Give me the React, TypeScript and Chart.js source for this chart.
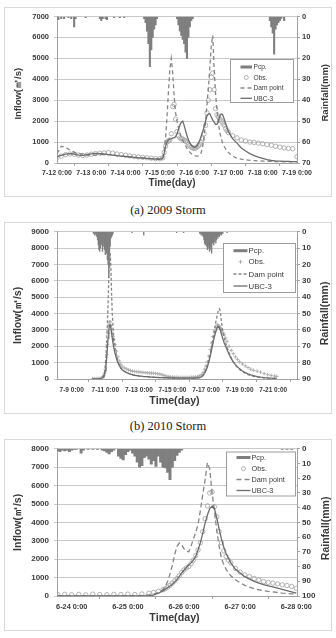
import { useEffect, useRef } from 'react';
import { Chart, registerables } from 'chart.js';

Chart.register(...registerables);

const SANS = '"Liberation Sans", Arial, sans-serif';
const SERIF = '"Liberation Serif", "Times New Roman", serif';
const TEXT = '#3a3a3a';
const GRID = '#c9c9c9';
const AXIS = '#a2a2a2';
const RAIN_COLOR = '#7f7f7f';
const OBS_COLOR = '#a8a8a8';
const DAM_COLOR = '#868686';
const UBC_COLOR = '#6c6c6c';

const FLOW_TITLE = 'Inflow(㎥/s)';
const RAIN_TITLE = 'Rainfall(mm)';
const TIME_TITLE = 'Time(day)';

// ---------- 2009 storm: hours after 7-12 0:00 ----------
const hours2009 = [
  0, 3, 6, 9, 12, 15, 18, 21, 24, 27, 30, 33, 36, 39, 42, 45, 48, 51, 54, 57, 60, 63, 66, 69, 72,
  74, 75, 76, 77, 78, 79, 80, 81, 82, 83, 84, 85, 86, 87, 88, 89, 90, 91, 92, 93, 94, 95, 96, 97,
  98, 99, 100, 101, 102, 103, 104, 105, 106, 107, 108, 109, 110, 111, 112, 113, 114, 115, 116, 117,
  118, 119, 120,
  123, 126, 129, 132, 135, 138, 141, 144, 147, 150, 153, 156, 159, 162, 165, 168,
];
const obs2009 = [
  250, 330, 400, 430, 420, 380, 360, 380, 420, 450, 470, 480, 500, 470, 430, 400, 370, 340, 310, 290, 270, 250, 230, 210, 200,
  250, 500, 800, 1000, 1050, 1100, 1400, 2700, 2800, 2100, 1500, 1300, 1200, 1150, 1150, 1100, 1050, 1000, 900, 820,
  760, 720, 700, 720, 760, 820, 900, 1000, 1150, 1400, 1800, 2400, 3000, 3500, 4100, 4300, 3500, 2600, 2300, 2200,
  2100, 2000, 1900, 1800, 1650, 1550, 1450,
  1300, 1200, 1100, 1050, 1000, 980, 950, 920, 880, 850, 800, 760, 720, 700, 680, 300,
];
const dam2009 = [
  450, 800, 750, 620, 520, 460, 420, 380, 360, 380, 400, 410, 400, 380, 350, 330, 310, 290, 270, 260, 240, 230, 210, 200, 190,
  250, 600, 1200, 2200, 3400, 4500, 5000, 4300, 3200, 2400, 2000, 1700, 1450, 1250, 1100, 950, 820, 700, 600, 520,
  450, 400, 360, 340, 330, 340, 380, 500, 800, 1300, 2000, 2800, 3600, 4600, 5600, 6100, 4500, 3300, 2500, 1900,
  1450, 1150, 950, 800, 680, 580, 500,
  320, 230, 180, 150, 130, 115, 100, 90, 80, 75, 70, 65, 60, 55, 50, 50,
];
const ubc2009 = [
  300, 360, 420, 450, 430, 380, 360, 400, 440, 460, 450, 430, 400, 380, 350, 330, 310, 290, 270, 250, 240, 220, 200, 190, 180,
  220, 450, 800, 1000, 1100, 1150, 1150, 1200, 1200, 1250, 1400, 1600, 1800, 1950, 2000, 1800, 1550, 1300, 1100, 950,
  850, 780, 750, 760, 820, 950, 1100, 1300, 1500, 1750, 2000, 2250, 2350, 2350, 2200, 2050, 1950, 1850, 1850, 2000,
  2250, 2350, 2300, 2100, 1900, 1700, 1500,
  1150, 950, 720, 570, 450, 350, 280, 220, 160, 120, 100, 90, 80, 75, 70, 65,
];
const rainHours2009 = [
  0, 1, 3, 5, 8, 10, 12, 13, 20, 30, 31, 32, 34, 35, 40, 44, 47,
  61, 62, 63, 64, 65, 66, 67, 68, 69, 70,
  84, 85, 86, 87, 88, 89, 90, 91, 92, 93, 94, 95,
  149, 150, 151, 152, 153, 154, 155, 156, 157, 159,
];
const rainMm2009 = [
  1, 1.5, 1, 1, 0.5, 1, 5, 1, 0.5, 1, 2, 1, 1, 1.5, 0.5, 0.5, 0.5,
  1, 3, 7, 13, 24, 16, 10, 6, 4, 1,
  1, 4, 7, 9, 11, 13, 17, 20, 10, 5, 2, 1,
  2, 5, 8, 18, 6, 4, 3, 2, 1, 2,
];
const tickHours2009 = [0, 24, 48, 72, 96, 120, 144, 168];
const tickLabels2009 = ['7-12 0:00', '7-13 0:00', '7-14 0:00', '7-15 0:00', '7-16 0:00', '7-17 0:00', '7-18 0:00', '7-19 0:00'];

// ---------- 2010 storm: hours after 7-9 0:00 ----------
const hours2010 = [
  30, 33, 36, 39, 42, 45,
  46, 47, 48, 49, 50, 51, 52, 53, 54, 55, 56, 57, 58, 59, 60, 62, 64, 66, 68, 70, 72,
  75, 78, 81, 84, 87, 90, 93, 96, 99, 102, 105, 108, 111, 114, 117, 120, 123, 126, 129, 132, 135, 138,
  141, 144, 147, 150, 153, 156, 159, 162, 165, 168, 171, 174, 177, 180, 183, 186,
  188, 190, 192, 194, 196, 198, 200, 202, 204, 206, 208, 209, 210, 211, 212, 213, 214, 216, 218, 220, 222,
  225, 228, 231, 234, 237, 240, 244, 248, 252, 256, 260, 265, 270, 275, 280, 285, 290, 293,
];
const obs2010 = [
  20, 20, 30, 40, 60, 150,
  220, 350, 600, 1000, 1500, 2100, 2800, 3300, 3500, 3500, 3300, 3000, 2800, 2600, 2400, 2100, 1700, 1350, 1100, 900, 780,
  680, 620, 560, 520, 480, 460, 440, 430, 420, 400, 390, 380, 370, 360, 350, 340, 320, 300, 260, 220, 180, 150,
  130, 120, 110, 110, 100, 100, 100, 100, 100, 100, 110, 120, 130, 150, 200, 280,
  400, 600, 800, 1050, 1400, 1800, 2200, 2600, 2900, 3150, 3300, 3300, 3250, 3200, 3150, 3050, 3000, 2850, 2700, 2500, 2300,
  2000, 1750, 1550, 1350, 1200, 1050, 920, 800, 700, 600, 530, 480, 420, 330, 260, 220, 180, 160,
];
const dam2010 = [
  0, 0, 0, 10, 30, 150,
  250, 450, 800, 1400, 2300, 3400, 4700, 6200, 7400, 7700, 6800, 5200, 4000, 3200, 2600, 1900, 1450, 1100, 850, 700, 580,
  480, 400, 340, 290, 250, 220, 200, 180, 165, 150, 140, 130, 120, 110, 100, 95, 90, 85, 80, 75, 70, 65,
  60, 60, 55, 55, 50, 50, 50, 50, 50, 50, 50, 55, 60, 70, 90, 150,
  250, 400, 600, 850, 1150, 1550, 2000, 2500, 3000, 3500, 3900, 4100, 4250, 4300, 4200, 3900, 3500, 2900, 2500, 2200, 1950,
  1600, 1300, 1050, 850, 700, 580, 450, 350, 270, 210, 160, 120, 90, 70, 50, 40, 30, 30,
];
const ubc2010 = [
  0, 0, 0, 10, 30, 100,
  180, 300, 500, 850, 1300, 1900, 2500, 3000, 3300, 3300, 3100, 2800, 2500, 2200, 1950, 1550, 1250, 1000, 820, 680, 570,
  470, 400, 340, 300, 260, 230, 210, 190, 175, 160, 150, 140, 130, 120, 110, 100, 95, 90, 85, 80, 75, 70,
  65, 60, 60, 55, 55, 50, 50, 50, 50, 50, 50, 55, 60, 70, 90, 140,
  220, 350, 520, 750, 1050, 1400, 1800, 2200, 2600, 2900, 3150, 3200, 3200, 3150, 3050, 2900, 2750, 2450, 2200, 2000, 1800,
  1500, 1250, 1050, 880, 740, 620, 490, 390, 310, 250, 200, 150, 110, 85, 65, 50, 40, 35,
];
const rainHours2010 = [
  31, 32, 33, 34, 35, 36, 37, 38, 39, 40, 41, 42, 43, 44, 45, 46, 47, 48, 49, 50,
  51, 52, 53, 54, 55, 56, 57, 58, 59,
  86, 103, 150, 160,
  183, 184, 185, 186, 187, 188, 189, 190, 191, 192, 193, 194, 195, 196, 197, 198, 199, 200, 201, 202,
  203, 204, 205, 206, 207, 208, 209, 210, 211, 212, 213, 214, 215, 216,
  222,
];
const rainMm2010 = [
  1, 1, 2, 1, 2, 3, 5, 8, 11, 12, 10, 6, 8, 12, 9, 7, 11, 14, 10, 13,
  17, 20, 28, 22, 9, 4, 3, 2, 1,
  0.5, 2, 0.5, 0.5,
  1, 1, 2, 1, 2, 3, 5, 7, 8, 6, 9, 11, 8, 10, 12, 9, 11, 13, 7, 5,
  8, 6, 4, 7, 5, 3, 4, 2, 3, 2, 1, 2, 1, 1,
  0.5,
];
const tickHours2010 = [0, 48, 96, 144, 192, 240, 288];
const tickLabels2010 = ['7-9 0:00', '7-11 0:00', '7-13 0:00', '7-15 0:00', '7-17 0:00', '7-19 0:00', '7-21 0:00'];

// ---------- June storm: hours after 6-24 0:00 ----------
const hoursJun = [
  -6, -3, 0, 3, 6, 9, 12, 15, 18, 21, 24, 27, 30, 33, 35, 37, 39,
  40, 41, 42, 43, 44, 45, 46, 47, 48, 49, 50, 51, 52, 53, 54, 55, 56, 57, 58, 59, 60, 61, 62, 63, 64,
  65, 66, 67, 68, 70, 72, 74, 76, 78, 80, 82, 84, 86, 88, 90, 92, 94, 96,
];
const obsJun = [
  80, 90, 70, 90, 60, 100, 80, 70, 90, 80, 100, 80, 110, 150, 200, 250, 340,
  400, 480, 580, 700, 820, 950, 1100, 1280, 1420, 1520, 1600, 1750, 1950, 2200, 2500, 2900, 3500, 4200, 4900, 5600, 5650, 4850, 4300, 3500, 2900,
  2450, 2150, 1950, 1800, 1500, 1300, 1150, 1050, 950, 870, 780, 740, 700, 660, 610, 570, 520, 420,
];
const damJun = [
  10, 10, 10, 10, 10, 10, 10, 10, 10, 10, 20, 20, 30, 60, 100, 180, 350,
  500, 800, 1200, 1650, 2250, 2700, 2880, 2780, 2560, 2430, 2400, 2700, 3100, 3450, 3900, 4650, 5500, 6300, 7250, 6900, 5600, 4650, 3550, 2700, 2050,
  1700, 1450, 1250, 1100, 880, 720, 580, 480, 400, 340, 290, 250, 220, 190, 160, 140, 120, 110,
];
const ubcJun = [
  5, 5, 5, 5, 5, 5, 5, 5, 5, 5, 5, 5, 10, 20, 50, 150, 280,
  380, 450, 540, 640, 760, 900, 1070, 1250, 1400, 1550, 1680, 1800, 1950, 2150, 2500, 2900, 3400, 3950, 4400, 4750, 4880, 4750, 4250, 3650, 3100,
  2650, 2300, 2050, 1800, 1450, 1250, 1050, 920, 800, 700, 620, 550, 490, 430, 360, 290, 220, 150,
];
const rainHoursJun = [
  -6, -5, -4, -3, -2, -1, 0, 1, 2, 4, 5, 7, 9, 11, 13, 14, 15, 16, 17, 18,
  20, 21, 22, 23, 24, 25, 26, 27, 28, 29, 30, 31, 32, 33, 34, 35, 36, 37, 38, 39,
  40, 41, 42, 43, 44, 45, 46, 47, 90, 92, 94,
];
const rainMmJun = [
  1.5, 2, 1, 1.5, 1, 2, 1, 0.5, 0.5, 3, 1, 0.5, 0.5, 0.5, 1, 1.5, 2.5, 3.5, 2, 1,
  5, 6.5, 7.5, 4, 2, 1, 3, 5, 9, 12.5, 11.5, 6, 5, 7, 10.5, 8, 12, 5, 9, 12.5,
  13, 16, 21, 12.5, 8, 4.5, 2.5, 1, 0.5, 0.5, 0.5,
];
const tickHoursJun = [0, 24, 48, 72, 96];
const tickLabelsJun = ['6-24 0:00', '6-25 0:00', '6-26 0:00', '6-27 0:00', '6-28 0:00'];

type Legend = { x: number; y: number; w: number; h: number; rows: number[]; sym0: number; sym1: number; textX: number; size: number };
type Look = {
  width: number; height: number; padTop: number; leftW: number; rightW: number; bottomH: number;
  yTick: number; xTick: number; xTickPad: number; yTitle: number; xTitle: number;
  leftTitleX: number; leftTitleDy: number; rightTitleX: number; rightTitleDy: number;
  xTitleX: number; xTitleY: number; dash: number[]; legend: Legend;
};
type Panel = {
  hours: number[]; obs: number[]; dam: number[]; ubc: number[];
  rainHours: number[]; rainMm: number[];
  tickHours: number[]; tickLabels: string[];
  xMin: number; xMax: number; flowMax: number; rainMax: number;
  obsMarker: 'circle' | 'cross'; look: Look;
};

const pairs = (xs: number[], ys: number[]) => xs.map((x, i) => ({ x, y: ys[i] }));
const plainNumber = (v: any) => String(v);

// Titles, frame and the in-plot legend box
const decorPlugin = {
  id: 'panelDecor',
  afterDraw(chart: any, _args: any, o: any) {
    const { ctx, chartArea: a } = chart;
    const midY = (a.top + a.bottom) / 2;
    ctx.save();
    ctx.strokeStyle = '#d9d9d9';
    ctx.lineWidth = 1;
    ctx.strokeRect(0.5, 0.5, chart.width - 1, chart.height - 1);

    ctx.fillStyle = TEXT;
    ctx.textAlign = 'center';
    ctx.textBaseline = 'middle';
    ctx.font = `bold ${o.yTitle}px ${SANS}`;
    ctx.save();
    ctx.translate(o.leftTitleX, midY + o.leftTitleDy);
    ctx.rotate(-Math.PI / 2);
    ctx.fillText(FLOW_TITLE, 0, 0);
    ctx.restore();
    ctx.save();
    ctx.translate(o.rightTitleX, midY + o.rightTitleDy);
    ctx.rotate(-Math.PI / 2);
    ctx.fillText(RAIN_TITLE, 0, 0);
    ctx.restore();
    ctx.font = `bold ${o.xTitle}px ${SANS}`;
    ctx.fillText(TIME_TITLE, o.xTitleX, o.xTitleY);

    const g = o.legend;
    ctx.fillStyle = '#ffffff';
    ctx.fillRect(g.x, g.y, g.w, g.h);
    ctx.strokeStyle = '#9c9c9c';
    ctx.strokeRect(g.x + 0.5, g.y + 0.5, g.w - 1, g.h - 1);
    const ds = chart.data.datasets;
    const order = [3, 2, 1, 0];
    order.forEach((di: number, r: number) => {
      const d = ds[di];
      const y = g.rows[r];
      const cx = (g.sym0 + g.sym1) / 2;
      ctx.save();
      if (d.type === 'bar') {
        ctx.fillStyle = RAIN_COLOR;
        ctx.fillRect(g.sym0, y - 1.5, g.sym1 - g.sym0, 3);
      } else if (d.showLine === false) {
        ctx.strokeStyle = OBS_COLOR;
        ctx.lineWidth = 0.9;
        ctx.beginPath();
        if (o.obsMarker === 'cross') {
          ctx.moveTo(cx - 2, y); ctx.lineTo(cx + 2, y);
          ctx.moveTo(cx, y - 2); ctx.lineTo(cx, y + 2);
        } else {
          ctx.arc(cx, y, 2, 0, Math.PI * 2);
        }
        ctx.stroke();
      } else {
        ctx.strokeStyle = d.borderColor;
        ctx.lineWidth = 1.3;
        ctx.setLineDash(d.borderDash || []);
        ctx.beginPath();
        ctx.moveTo(g.sym0, y);
        ctx.lineTo(g.sym1, y);
        ctx.stroke();
      }
      ctx.restore();
      ctx.fillStyle = TEXT;
      ctx.textAlign = 'left';
      ctx.textBaseline = 'middle';
      ctx.font = `${g.size}px ${SANS}`;
      ctx.fillText(d.label, g.textX, y + 0.5);
    });
    ctx.restore();
  },
};

function StormPanel({ panel, left, top }: { panel: Panel; left: number; top: number }) {
  const ref = useRef<HTMLCanvasElement | null>(null);
  useEffect(() => {
    if (!ref.current) return;
    const p = panel;
    const L = p.look;
    const chart = new Chart(ref.current, {
      type: 'line',
      data: {
        datasets: [
          {
            type: 'line', label: 'UBC-3', data: pairs(p.hours, p.ubc), yAxisID: 'y',
            borderColor: UBC_COLOR, borderWidth: 1.3, pointRadius: 0, tension: 0, order: 0,
          },
          {
            type: 'line', label: 'Dam point', data: pairs(p.hours, p.dam), yAxisID: 'y',
            borderColor: DAM_COLOR, borderWidth: 1.3, borderDash: L.dash, pointRadius: 0, tension: 0, order: 1,
          },
          {
            type: 'line', label: 'Obs.', data: pairs(p.hours, p.obs), yAxisID: 'y', showLine: false,
            pointStyle: p.obsMarker === 'cross' ? 'cross' : 'circle',
            pointRadius: p.obsMarker === 'cross' ? 1.8 : 2.2, pointBorderWidth: 0.9,
            pointBorderColor: OBS_COLOR, pointBackgroundColor: 'rgba(255,255,255,0)', order: 2,
          },
          {
            type: 'bar', label: 'Pcp.', data: pairs(p.rainHours, p.rainMm), yAxisID: 'y2',
            backgroundColor: RAIN_COLOR, barPercentage: 1, categoryPercentage: 1, order: 3,
          },
        ],
      } as any,
      options: {
        responsive: false,
        animation: false,
        devicePixelRatio: 1,
        events: [],
        layout: { padding: { top: L.padTop, left: 0, right: 0, bottom: 0 } },
        plugins: {
          legend: { display: false },
          tooltip: { enabled: false },
          panelDecor: {
            yTitle: L.yTitle, xTitle: L.xTitle,
            leftTitleX: L.leftTitleX, leftTitleDy: L.leftTitleDy,
            rightTitleX: L.rightTitleX, rightTitleDy: L.rightTitleDy,
            xTitleX: L.xTitleX, xTitleY: L.xTitleY,
            obsMarker: p.obsMarker, legend: L.legend,
          },
        } as any,
        scales: {
          x: {
            type: 'linear', min: p.xMin, max: p.xMax, offset: false,
            afterFit: (s: any) => { s.height = L.bottomH; },
            afterBuildTicks: (s: any) => { s.ticks = p.tickHours.map((v) => ({ value: v })); },
            grid: { drawOnChartArea: false, tickLength: 3, color: AXIS },
            border: { color: AXIS },
            ticks: {
              autoSkip: false, maxRotation: 0, minRotation: 0, padding: L.xTickPad, color: TEXT,
              font: { family: SANS, size: L.xTick, weight: 'bold' },
              callback: (_v: any, i: number) => p.tickLabels[i],
            },
          },
          y: {
            type: 'linear', position: 'left', min: 0, max: p.flowMax,
            afterFit: (s: any) => { s.width = L.leftW; },
            grid: { color: GRID, tickLength: 3 },
            border: { color: AXIS },
            ticks: {
              stepSize: 1000, padding: 5, color: TEXT, callback: plainNumber,
              font: { family: SANS, size: L.yTick, weight: 'bold' },
            },
          },
          y2: {
            type: 'linear', position: 'right', reverse: true, min: 0, max: p.rainMax,
            afterFit: (s: any) => { s.width = L.rightW; },
            grid: { drawOnChartArea: false, tickLength: 3, color: AXIS },
            border: { color: AXIS },
            ticks: {
              stepSize: 10, padding: 2, color: TEXT, callback: plainNumber,
              font: { family: SANS, size: L.yTick, weight: 'bold' },
            },
          },
        } as any,
      },
      plugins: [decorPlugin as any],
    });
    return () => chart.destroy();
  }, [panel]);
  return (
    <canvas
      ref={ref}
      width={panel.look.width}
      height={panel.look.height}
      style={{ position: 'absolute', left, top, width: panel.look.width, height: panel.look.height }}
    />
  );
}

const panel2009: Panel = {
  hours: hours2009, obs: obs2009, dam: dam2009, ubc: ubc2009,
  rainHours: rainHours2009, rainMm: rainMm2009,
  tickHours: tickHours2009, tickLabels: tickLabels2009,
  xMin: 0, xMax: 168, flowMax: 7000, rainMax: 70, obsMarker: 'circle',
  look: {
    width: 328, height: 190, padTop: 8, leftW: 53, rightW: 35, bottomH: 34,
    yTick: 7.5, xTick: 7, xTickPad: 3, yTitle: 9.5, xTitle: 10,
    leftTitleX: 14, leftTitleDy: 4, rightTitleX: 321, rightTitleDy: 3,
    xTitleX: 168, xTitleY: 176, dash: [4, 3],
    legend: { x: 226, y: 52, w: 64, h: 44, rows: [60, 70.5, 81, 91.3], sym0: 236.5, sym1: 248, textX: 249.5, size: 6.6 },
  },
};

const panel2010: Panel = {
  hours: hours2010, obs: obs2010, dam: dam2010, ubc: ubc2010,
  rainHours: rainHours2010, rainMm: rainMm2010,
  tickHours: tickHours2010, tickLabels: tickLabels2010,
  xMin: -21, xMax: 322, flowMax: 9000, rainMax: 90, obsMarker: 'cross',
  look: {
    width: 328, height: 192, padTop: 9, leftW: 53, rightW: 35, bottomH: 35,
    yTick: 8, xTick: 6.5, xTickPad: 4, yTitle: 10.5, xTitle: 10.7,
    leftTitleX: 14, leftTitleDy: 10, rightTitleX: 321, rightTitleDy: 8,
    xTitleX: 170.5, xTitleY: 179, dash: [3, 2],
    legend: { x: 219, y: 21, w: 73, h: 50, rows: [28.7, 39.8, 52, 64], sym0: 229.5, sym1: 243.5, textX: 244.5, size: 7.8 },
  },
};

const panelJun: Panel = {
  hours: hoursJun, obs: obsJun, dam: damJun, ubc: ubcJun,
  rainHours: rainHoursJun, rainMm: rainMmJun,
  tickHours: tickHoursJun, tickLabels: tickLabelsJun,
  xMin: -6.3, xMax: 96.3, flowMax: 8000, rainMax: 100, obsMarker: 'circle',
  look: {
    width: 328, height: 192, padTop: 9, leftW: 53, rightW: 35, bottomH: 35,
    yTick: 8, xTick: 7.3, xTickPad: 4, yTitle: 10.5, xTitle: 10.7,
    leftTitleX: 14, leftTitleDy: 0, rightTitleX: 322, rightTitleDy: 6,
    xTitleX: 170.5, xTitleY: 179, dash: [5, 3],
    legend: { x: 222, y: 12.5, w: 70, h: 45, rows: [18.5, 29.7, 40.5, 51.5], sym0: 232.5, sym1: 246.5, textX: 247.5, size: 7.3 },
  },
};

const captionStyle = (top: number) => ({
  position: 'absolute' as const,
  left: 0,
  top,
  width: 336,
  textAlign: 'center' as const,
  fontFamily: SERIF,
  fontSize: 12.5,
  lineHeight: '14px',
  color: '#222',
  margin: 0,
});

export default function App() {
  return (
    <div style={{ position: 'absolute', left: 0, top: 0, width: 336, height: 638, background: '#fff', overflow: 'hidden' }}>
      <StormPanel panel={panel2009} left={4} top={7} />
      <div style={captionStyle(203)}>(a) 2009 Storm</div>
      <StormPanel panel={panel2010} left={4} top={222} />
      <div style={captionStyle(419)}>(b) 2010 Storm</div>
      <StormPanel panel={panelJun} left={4} top={439} />
    </div>
  );
}
